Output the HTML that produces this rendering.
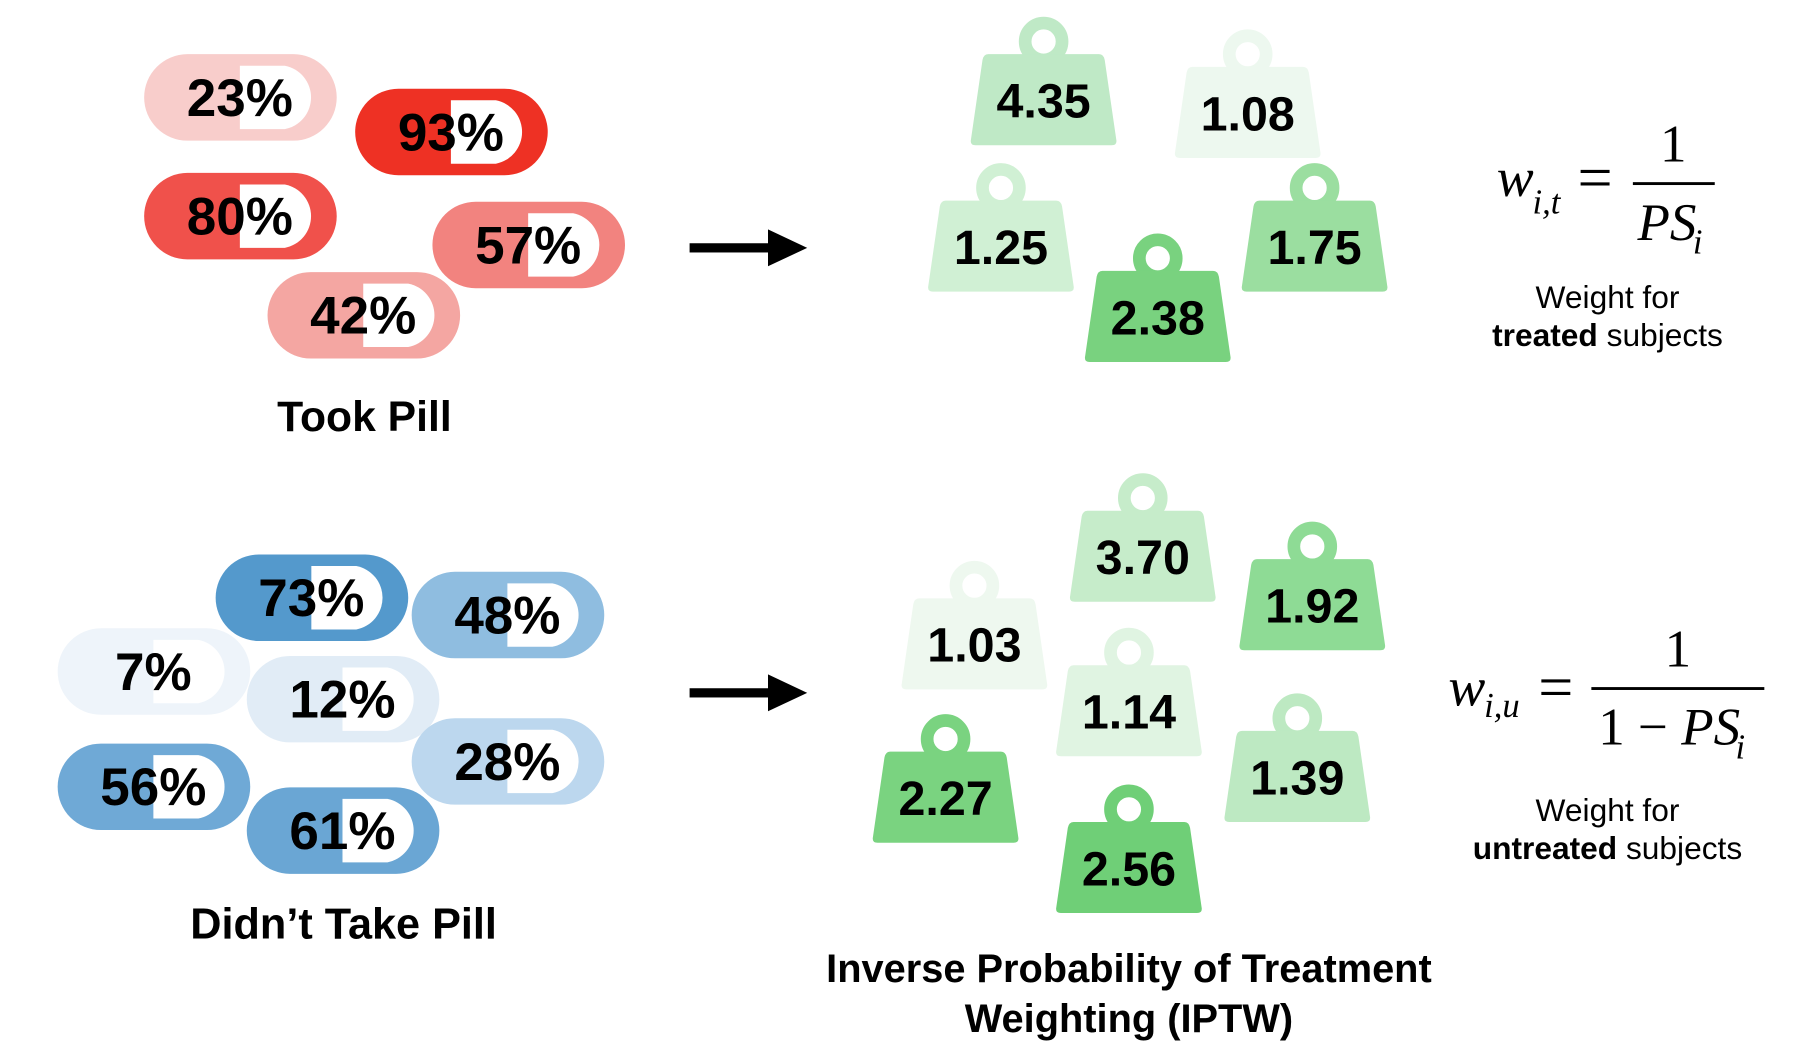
<!DOCTYPE html>
<html><head><meta charset="utf-8"><style>
html,body{margin:0;padding:0;background:#fff;}
svg{display:block;}
text{font-family:"Liberation Sans",Arial,sans-serif;}
.m{font-family:"Liberation Serif","Times New Roman",serif;font-style:italic;}
.mr{font-family:"Liberation Serif","Times New Roman",serif;}
</style></head><body>
<svg id="fig" width="1807" height="1056" viewBox="0 0 1567 916" preserveAspectRatio="none" xmlns="http://www.w3.org/2000/svg">
<g id="pills"></g>
<g id="weights"></g>
<text x="316" y="374" text-anchor="middle" font-size="37" font-weight="bold">Took Pill</text>
<text x="298" y="814" text-anchor="middle" font-size="37.5" font-weight="bold">Didn’t Take Pill</text>
<g><rect x="598" y="211" width="70" height="8" fill="#000"/><polygon points="666,199 700,215 666,231" fill="#000"/></g>
<g><rect x="598" y="597" width="70" height="8" fill="#000"/><polygon points="666,585 700,601 666,617" fill="#000"/></g>
<g>
<text x="1298" y="170" class="m" font-size="48">w</text>
<text x="1329" y="185" class="m" font-size="30">i,t</text>
<text x="1368" y="172" class="mr" font-size="54">=</text>
<text x="1451" y="140" class="mr" font-size="46" text-anchor="middle">1</text>
<rect x="1416" y="158" width="71" height="2.5" fill="#000"/>
<text x="1420" y="208" class="m" font-size="46">PS</text>
<text x="1468" y="220" class="m" font-size="30">i</text>
</g>
<text x="1394" y="267" text-anchor="middle" font-size="27.5">Weight for</text>
<text x="1394" y="300" text-anchor="middle" font-size="27.5"><tspan font-weight="bold">treated</tspan> subjects</text>
<g>
<text x="1256" y="612" class="m" font-size="48">w</text>
<text x="1287" y="622" class="m" font-size="30">i,u</text>
<text x="1334" y="614" class="mr" font-size="54">=</text>
<text x="1455" y="578" class="mr" font-size="46" text-anchor="middle">1</text>
<rect x="1380" y="596" width="150" height="2.5" fill="#000"/>
<text x="1386" y="646" class="mr" font-size="46">1 − <tspan class="m">PS</tspan></text>
<text x="1505" y="658" class="m" font-size="30">i</text>
</g>
<text x="1394" y="712" text-anchor="middle" font-size="27.5">Weight for</text>
<text x="1394" y="745" text-anchor="middle" font-size="27.5"><tspan font-weight="bold">untreated</tspan> subjects</text>
<text x="979" y="852" text-anchor="middle" font-size="34.5" font-weight="bold">Inverse Probability of Treatment</text>
<text x="979" y="895" text-anchor="middle" font-size="34.5" font-weight="bold">Weighting (IPTW)</text>
</svg>
<script>
const pillValues = [23, 93, 80, 57, 42, 73, 48, 7, 12, 28, 56, 61];
const pillGroup = ['treated','treated','treated','treated','treated','untreated','untreated','untreated','untreated','untreated','untreated','untreated'];
const pillX = [125, 308, 125, 375, 232, 187, 357, 50, 214, 357, 50, 214];
const pillY = [47, 77, 150, 175, 236, 481, 496, 545, 569, 623, 645, 683];
const pillColors = ['#f8cdcb','#ee3124','#f0514b','#f2837f','#f4a6a2','#5499cc','#8fbde0','#eef4fa','#e1ecf6','#bcd7ee','#6fa9d6','#6aa6d4'];

const weightValues = ['4.35','1.08','1.25','2.38','1.75','3.70','1.92','1.03','1.14','1.39','2.27','2.56'];
const weightX = [905, 1082, 868, 1004, 1140, 991, 1138, 845, 979, 1125, 820, 979];
const weightY = [47, 58, 174, 235, 174, 443, 485, 519, 577, 634, 652, 713];
const weightColors = ['#bfe9c6','#edf8ef','#d0f0d4','#79d27f','#9bdea0','#c6ecca','#8edb95','#eef8ef','#e0f4e2','#bde9c2','#7ad380','#6fcf77'];

const NS = 'http://www.w3.org/2000/svg';
function mk(tag, attrs, parent){const e=document.createElementNS(NS,tag);for(const k in attrs)e.setAttribute(k,attrs[k]);parent.appendChild(e);return e;}

const pg = document.getElementById('pills');
pillValues.forEach((v,i)=>{
  const x=pillX[i], y=pillY[i], w=167, h=75, c=pillColors[i];
  const g=mk('g',{},pg);
  
  
  mk('rect',{x:x,y:y,width:w,height:h,rx:37.5,ry:37.5,fill:c},g);
  const sx=x+83;
  mk('path',{d:`M${sx} ${y+10} H${x+w-45} A28 28 0 0 1 ${x+w-45} ${y+h-10} H${sx} Z`,fill:'#fff'},g);
  const t=mk('text',{x:sx,y:y+h/2+16,'text-anchor':'middle','font-size':46,'font-weight':'bold',fill:'#000'},g);
  t.textContent=v+'%';
});

const wg = document.getElementById('weights');
weightValues.forEach((v,i)=>{
  const cx=weightX[i], y=weightY[i], c=weightColors[i];
  const g=mk('g',{},wg);
  
  
  mk('circle',{cx:cx,cy:y-11,r:16,fill:'none',stroke:c,'stroke-width':11},g);
  mk('path',{d:`M${cx-48} ${y} H${cx+48} Q${cx+52} ${y} ${cx+53} ${y+5} L${cx+63} ${y+74} Q${cx+64} ${y+79} ${cx+59} ${y+79} H${cx-59} Q${cx-64} ${y+79} ${cx-63} ${y+74} L${cx-53} ${y+5} Q${cx-52} ${y} ${cx-48} ${y} Z`,fill:c},g);
  const t=mk('text',{x:cx,y:y+55,'text-anchor':'middle','font-size':42,'font-weight':'bold',fill:'#000'},g);
  t.textContent=v;
});
</script>
</body></html>
